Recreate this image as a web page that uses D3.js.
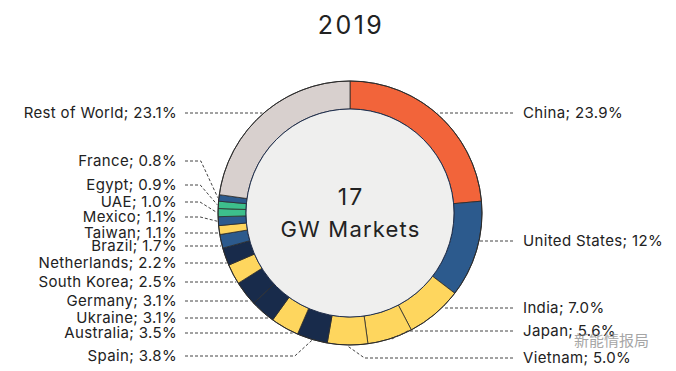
<!DOCTYPE html>
<html>
<head>
<meta charset="utf-8">
<script src="https://cdn.jsdelivr.net/npm/d3@7"></script>
<style>
  html, body { margin: 0; padding: 0; background: #fff; }
  #root { width: 676px; height: 371px; }
  text { font-family: Inter, "Open Sans", sans-serif; fill: #222; }
</style>
</head>
<body>
<div id="root"></div>
<script>
// Data (clockwise from 12 o'clock)
const countries = ['China', 'United States', 'India', 'Japan', 'Vietnam', 'Spain', 'Australia',
  'Ukraine', 'Germany', 'South Korea', 'Netherlands', 'Brazil', 'Taiwan', 'Mexico', 'UAE',
  'Egypt', 'France', 'Rest of World'];
const shares = [23.9, 12, 7.0, 5.6, 5.0, 3.8, 3.5, 3.1, 3.1, 2.5, 2.2, 1.7, 1.1, 1.1, 1.0, 0.9, 0.8, 23.1];
const shareText = ['23.9%', '12%', '7.0%', '5.6%', '5.0%', '3.8%', '3.5%', '3.1%', '3.1%', '2.5%',
  '2.2%', '1.7%', '1.1%', '1.1%', '1.0%', '0.9%', '0.8%', '23.1%'];
const groups = ['cn', 'blue', 'yellow', 'yellow', 'yellow', 'navy', 'yellow', 'navy', 'navy', 'yellow',
  'navy', 'blue', 'yellow', 'blue', 'green', 'green', 'blue', 'row'];
const title = '2019';
const centerTop = '17';
const centerBottom = 'GW Markets';

// layout: where each label sits
const labelY = [113, 241, 308, 331, 358, 356, 333, 318, 301, 282, 263, 246, 233, 217, 202, 185, 161, 113];
const labelSide = ['R', 'R', 'R', 'R', 'R', 'L', 'L', 'L', 'L', 'L', 'L', 'L', 'L', 'L', 'L', 'L', 'L', 'L'];

const root = document.getElementById('root');
const width = 676;
const height = 371;
const cx = 350, cy = 213;
const rOuter = 132, rInner = 104;
const leftTextX = 177, leftLineX = 185;
const rightTextX = 523, rightLineX = 513;
const elbow = 17;

const color = d3.scaleOrdinal()
  .domain(['cn', 'blue', 'yellow', 'navy', 'green', 'row'])
  .range(['#f2643a', '#2c5a8d', '#fed65e', '#182b4b', '#3dbf8c', '#d8d0ce']);

const dataset = countries.map((c, i) => ({
  name: c, share: shares[i], txt: shareText[i], g: groups[i], y: labelY[i], right: labelSide[i] === 'R'
}));

const svg = d3.select(root)
  .append('svg')
  .attr('width', width)
  .attr('height', height);

// Title
svg.append('text')
  .attr('x', cx + 1)
  .attr('y', 25)
  .attr('dy', '0.35em')
  .attr('text-anchor', 'middle')
  .attr('font-size', '25px')
  .attr('letter-spacing', '2.4px')
  .text(title);

const pie = d3.pie().sort(null).value(d => d.share);
const arcs = pie(dataset);
const arc = d3.arc().innerRadius(rInner).outerRadius(rOuter);

const chart = svg.append('g').attr('transform', `translate(${cx},${cy})`);

chart.selectAll('path.slice')
  .data(arcs)
  .enter()
  .append('path')
  .attr('class', 'slice')
  .attr('d', arc)
  .attr('fill', d => color(d.data.g))
  .attr('stroke', '#2b2b2b')
  .attr('stroke-width', 0.8);

chart.append('circle')
  .attr('r', rOuter)
  .attr('fill', 'none')
  .attr('stroke', '#2b2b2b')
  .attr('stroke-width', 1);

chart.append('circle')
  .attr('r', rInner)
  .attr('fill', '#efefee')
  .attr('stroke', '#1d2d4d')
  .attr('stroke-width', 1);

chart.append('text')
  .attr('x', 1)
  .attr('y', -16)
  .attr('dy', '0.35em')
  .attr('text-anchor', 'middle')
  .attr('font-size', '23px')
  .attr('letter-spacing', '2px')
  .text(centerTop);
chart.append('text')
  .attr('x', 0.5)
  .attr('y', 16)
  .attr('dy', '0.35em')
  .attr('text-anchor', 'middle')
  .attr('font-size', '22px')
  .attr('letter-spacing', '1.2px')
  .text(centerBottom);

// Leader lines
const r = rOuter + 1;
const toAngle = (x, y) => {
  let a = Math.atan2(x, -y);
  if (a < 0) a += 2 * Math.PI;
  return a;
};
const margin = 0.3 * Math.PI / 180;

const leaderPoints = d => {
  const mid = (d.startAngle + d.endAngle) / 2;
  const right = d.data.right;
  const y = d.data.y;
  const x0 = right ? rightLineX : leftLineX;
  const dy = y - cy;
  if (Math.abs(dy) < r) {
    const dx = Math.sqrt(r * r - dy * dy) * (right ? 1 : -1);
    const a = toAngle(dx, dy);
    if (a > d.startAngle + margin && a < d.endAngle - margin) {
      return [[x0, y], [cx + dx, y]];
    }
  }
  const tx = cx + r * Math.sin(mid);
  const ty = cy - r * Math.cos(mid);
  const ex = right ? tx + elbow : tx - elbow;
  return [[x0, y], [ex, y], [tx, ty]];
};

svg.selectAll('path.leader')
  .data(arcs)
  .enter()
  .append('path')
  .attr('class', 'leader')
  .attr('d', d => d3.line()(leaderPoints(d)))
  .attr('fill', 'none')
  .attr('stroke', '#444')
  .attr('stroke-width', 1)
  .attr('stroke-dasharray', '3,2');

svg.selectAll('text.label')
  .data(arcs)
  .enter()
  .append('text')
  .attr('class', 'label')
  .attr('x', d => d.data.right ? rightTextX : leftTextX)
  .attr('y', d => d.data.y)
  .attr('dy', '0.35em')
  .attr('text-anchor', d => d.data.right ? 'start' : 'end')
  .attr('font-size', '15px')
  .attr('letter-spacing', '0.35px')
  .text(d => `${d.data.name}; ${d.data.txt}`);

// watermark
svg.append('text')
  .attr('x', 574)
  .attr('y', 341)
  .attr('dy', '0.35em')
  .attr('font-size', '15px')
  .style('font-family', '"Noto Sans CJK SC", sans-serif')
  .style('fill', '#888')
  .style('opacity', 0.75)
  .text('新能情报局');
</script>
</body>
</html>
